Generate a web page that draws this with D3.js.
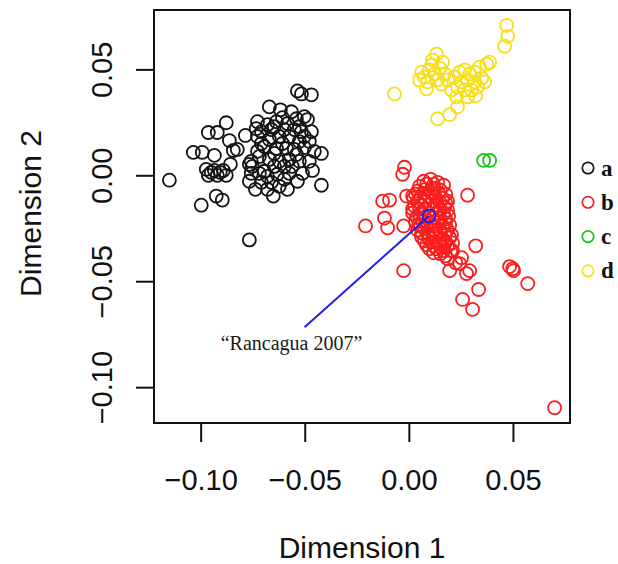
<!DOCTYPE html>
<html>
<head>
<meta charset="utf-8">
<script src="https://cdn.jsdelivr.net/npm/d3@7"></script>
<style>
  html, body { margin: 0; padding: 0; background: #fff; }
  svg { display: block; }
</style>
</head>
<body>
<svg id="chart" width="618" height="564"></svg>
<script>
// MDS-style scatter, four groups a-d, one highlighted point

// group a (black)
const groupA = [
  [-0.1150,-0.0023],[-0.0997,-0.0141],[-0.0766,-0.0305],[-0.1035,0.0108],[-0.0992,0.0108],
  [-0.0963,0.0202],[-0.0920,0.0202],[-0.0877,0.0248],[-0.0934,0.0094],[-0.0862,0.0164],
  [-0.0843,0.0117],[-0.0857,0.0052],[-0.0973,0.0028],[-0.0963,0.0000],[-0.0934,0.0023],
  [-0.0920,0.0000],[-0.0891,0.0023],[-0.0877,0.0000],[-0.0949,0.0014],[-0.0906,0.0014],
  [-0.0925,-0.0098],[-0.0896,-0.0117],[-0.0785,0.0188],[-0.0733,0.0220],[-0.0727,0.0253],
  [-0.0670,0.0323],[-0.0617,0.0309],[-0.0535,0.0398],[-0.0516,0.0384],[-0.0468,0.0380],
  [-0.0824,0.0122],[-0.0679,0.0239],[-0.0646,0.0230],[-0.0583,0.0244],[-0.0540,0.0267],
  [-0.0502,0.0277],[-0.0487,0.0263],[-0.0526,0.0230],[-0.0468,0.0206],[-0.0516,0.0206],
  [-0.0550,0.0216],[-0.0420,0.0103],[-0.0463,0.0023],[-0.0420,-0.0047],[-0.0535,-0.0028],
  [-0.0651,-0.0098],[-0.0766,-0.0028],[-0.0752,0.0042],[-0.0757,0.0066],[-0.0708,0.0150],
  [-0.0694,0.0136],[-0.0636,0.0127],[-0.0588,0.0127],[-0.0550,0.0122],[-0.0502,0.0131],
  [-0.0718,0.0009],[-0.0679,-0.0005],[-0.0632,0.0005],[-0.0598,-0.0019],[-0.0660,-0.0033],
  [-0.0708,-0.0033],[-0.0670,0.0075],[-0.0622,0.0066],[-0.0574,0.0075],[-0.0646,0.0042],
  [-0.0598,0.0042],[-0.0718,0.0089],[-0.0694,0.0019],[-0.0574,0.0009],[-0.0526,0.0066],
  [-0.0502,0.0183],[-0.0574,0.0183],[-0.0622,0.0183],[-0.0670,0.0169],[-0.0607,0.0272],
  [-0.0660,0.0216],[-0.0737,-0.0066],[-0.0622,-0.0052],[-0.0766,0.0052],[-0.0646,0.0103],
  [-0.0560,0.0042],[-0.0727,0.0183],[-0.0598,0.0216],[-0.0478,0.0159],
  [-0.0708,0.0206],[-0.0564,0.0300],[-0.0526,0.0159],[-0.0454,0.0113],[-0.0727,0.0113],
  [-0.0607,0.0150],[-0.0540,0.0098],[-0.0679,-0.0066],[-0.0583,-0.0066],[-0.0511,0.0009],
  [-0.0478,0.0066],[-0.0636,0.0253],[-0.0757,0.0009]
];

// group b (red)
const groupB = [
  [-0.0021,0.0038],[-0.0030,0.0005],[0.0282,-0.0094],[-0.0126,-0.0122],[-0.0093,-0.0117],
  [-0.0011,-0.0098],[0.0018,-0.0098],[-0.0117,-0.0202],[-0.0102,-0.0248],[-0.0208,-0.0239],
  [-0.0025,-0.0239],[0.0321,-0.0333],[-0.0025,-0.0450],[0.0484,-0.0431],[0.0499,-0.0441],
  [0.0503,-0.0450],[0.0571,-0.0511],[0.0335,-0.0539],[0.0258,-0.0586],[0.0306,-0.0633],
  [0.0700,-0.1097],[0.0172,-0.0323],[0.0210,-0.0356],[0.0253,-0.0389],[0.0244,-0.0417],
  [0.0196,-0.0450],[0.0277,-0.0464],[0.0292,-0.0450],[0.0225,-0.0413],[0.0186,-0.0394],
  [0.0071,-0.0028],[0.0104,-0.0019],[0.0138,-0.0033],[0.0167,-0.0047],
  [0.0042,-0.0075],[0.0080,-0.0066],[0.0119,-0.0061],[0.0152,-0.0070],
  [0.0023,-0.0108],[0.0056,-0.0103],[0.0095,-0.0098],[0.0128,-0.0103],[0.0162,-0.0108],[0.0186,-0.0122],
  [0.0027,-0.0145],[0.0061,-0.0141],[0.0100,-0.0136],[0.0138,-0.0141],[0.0172,-0.0150],
  [0.0018,-0.0178],[0.0051,-0.0183],[0.0133,-0.0178],[0.0167,-0.0183],[0.0191,-0.0192],
  [0.0032,-0.0220],[0.0066,-0.0216],[0.0104,-0.0225],[0.0143,-0.0220],[0.0176,-0.0225],
  [0.0042,-0.0258],[0.0076,-0.0253],[0.0114,-0.0258],[0.0152,-0.0263],[0.0186,-0.0258],
  [0.0061,-0.0291],[0.0095,-0.0295],[0.0128,-0.0291],[0.0162,-0.0300],[0.0196,-0.0295],
  [0.0085,-0.0328],[0.0119,-0.0333],[0.0152,-0.0338],[0.0186,-0.0333],
  [0.0119,-0.0366],[0.0152,-0.0370],[0.0176,-0.0380],
  [0.0085,-0.0042],[0.0119,-0.0084],[0.0076,-0.0159],[0.0114,-0.0202],[0.0056,-0.0239],
  [0.0147,-0.0310],[0.0099,-0.0347],
  [0.0051,-0.0052],[0.0119,-0.0042],[0.0032,-0.0089],[0.0071,-0.0084],[0.0104,-0.0080],
  [0.0143,-0.0084],[0.0177,-0.0089],[0.0042,-0.0122],[0.0080,-0.0122],[0.0114,-0.0122],
  [0.0148,-0.0127],[0.0177,-0.0131],[0.0018,-0.0159],[0.0051,-0.0159],[0.0119,-0.0159],
  [0.0152,-0.0159],[0.0186,-0.0164],[0.0037,-0.0197],[0.0075,-0.0197],[0.0148,-0.0197],
  [0.0177,-0.0206],[0.0047,-0.0234],[0.0085,-0.0234],[0.0124,-0.0239],[0.0162,-0.0239],
  [0.0196,-0.0234],[0.0061,-0.0272],[0.0095,-0.0277],[0.0133,-0.0272],[0.0172,-0.0277],
  [0.0205,-0.0281],[0.0075,-0.0309],[0.0109,-0.0314],[0.0143,-0.0319],[0.0177,-0.0314],
  [0.0210,-0.0319],[0.0133,-0.0347],[0.0167,-0.0356],[0.0201,-0.0356]
];

// group c (green)
const groupC = [[0.0359,0.0070],[0.0388,0.0070]];

// group d (yellow)
const groupD = [
  [0.0470,0.0708],[0.0475,0.0656],[0.0460,0.0609],[-0.0069,0.0384],[0.0133,0.0572],
  [0.0114,0.0544],[0.0388,0.0534],[0.0374,0.0525],[0.0138,0.0267],[0.0196,0.0286],
  [0.0234,0.0323],[0.0085,0.0408],[0.0157,0.0431],[0.0061,0.0487],[0.0075,0.0464],
  [0.0099,0.0497],[0.0124,0.0478],[0.0148,0.0506],[0.0172,0.0478],[0.0090,0.0441],
  [0.0138,0.0450],[0.0186,0.0450],[0.0109,0.0520],[0.0220,0.0464],[0.0244,0.0487],
  [0.0268,0.0497],[0.0292,0.0478],[0.0316,0.0487],[0.0340,0.0511],[0.0253,0.0441],
  [0.0282,0.0450],[0.0316,0.0441],[0.0350,0.0459],[0.0234,0.0417],[0.0268,0.0403],
  [0.0301,0.0403],[0.0330,0.0417],[0.0364,0.0441],[0.0229,0.0370],[0.0282,0.0370],
  [0.0205,0.0403],[0.0162,0.0534],[0.0051,0.0450],[0.0321,0.0375]
];

const legendLabels = ["a", "b", "c", "d"];
const groupColors = ["#141414", "#fb1e1e", "#12c812", "#f7df1c"];

const xTicks = [-0.10, -0.05, 0.00, 0.05];
const yTicks = [-0.10, -0.05, 0.00, 0.05];

// highlighted observation and its label
const highlight = [0.0097, -0.0192];
const highlightLabel = "\u201CRancagua 2007\u201D";
const labelAnchor = [-0.0501, -0.0717];

// ---------------------------------------------------------------------------

const svg = d3.select("#chart");
const box = { left: 154, right: 570, top: 10, bottom: 423 };

const groups = [groupA, groupB, groupC, groupD];
const all = groups.flat();

// R style: data range widened by 4% each side
function padded(ext) {
  const p = (ext[1] - ext[0]) * 0.04;
  return [ext[0] - p, ext[1] + p];
}

const x = d3.scaleLinear()
  .domain(padded(d3.extent(all, d => d[0])))
  .range([box.left, box.right]);

const y = d3.scaleLinear()
  .domain(padded(d3.extent(all, d => d[1])))
  .range([box.bottom, box.top]);

const fmt = d3.format(".2f");
const sans = "'Liberation Sans', Arial, sans-serif";
const serif = "'Liberation Serif', 'Times New Roman', serif";

// x axis
const xAxis = svg.append("g")
  .attr("transform", `translate(0,${box.bottom})`)
  .call(d3.axisBottom(x).tickValues(xTicks).tickFormat(fmt).tickSize(19).tickSizeOuter(0));
xAxis.select(".domain").remove();
xAxis.selectAll(".tick line").attr("stroke", "#111").attr("stroke-width", 2);
xAxis.selectAll(".tick text")
  .attr("y", 67).attr("dy", null)
  .attr("font-family", sans).attr("font-size", 29).attr("fill", "#111");

// y axis, labels turned like R's default
const yAxis = svg.append("g")
  .attr("transform", `translate(${box.left},0)`)
  .call(d3.axisLeft(y).tickValues(yTicks).tickFormat(fmt).tickSize(18).tickSizeOuter(0));
yAxis.select(".domain").remove();
yAxis.selectAll(".tick line").attr("stroke", "#111").attr("stroke-width", 2);
yAxis.selectAll(".tick text")
  .attr("x", null).attr("dy", null)
  .attr("transform", "translate(-42,0) rotate(-90)")
  .attr("text-anchor", "middle")
  .attr("font-family", sans).attr("font-size", 29).attr("fill", "#111");

// plot box
svg.append("rect")
  .attr("x", box.left).attr("y", box.top)
  .attr("width", box.right - box.left).attr("height", box.bottom - box.top)
  .attr("fill", "none").attr("stroke", "#111").attr("stroke-width", 2);

// titles
svg.append("text")
  .attr("x", (box.left + box.right) / 2).attr("y", 558)
  .attr("text-anchor", "middle")
  .attr("font-family", sans).attr("font-size", 30).attr("fill", "#111")
  .text("Dimension 1");

svg.append("text")
  .attr("transform", `translate(41,${(box.top + box.bottom) / 2 - 3}) rotate(-90)`)
  .attr("text-anchor", "middle")
  .attr("font-family", sans).attr("font-size", 30).attr("fill", "#111")
  .text("Dimension 2");

// points
groups.forEach((pts, i) => {
  svg.append("g")
    .selectAll("circle")
    .data(pts)
    .join("circle")
    .attr("cx", d => x(d[0]))
    .attr("cy", d => y(d[1]))
    .attr("r", 6.5)
    .attr("fill", "none")
    .attr("stroke", groupColors[i])
    .attr("stroke-width", 1.8);
});

// highlighted point with pointer line
svg.append("line")
  .attr("x1", x(labelAnchor[0])).attr("y1", y(labelAnchor[1]))
  .attr("x2", x(highlight[0])).attr("y2", y(highlight[1]))
  .attr("stroke", "#2020ee").attr("stroke-width", 2);
svg.append("circle")
  .attr("cx", x(highlight[0])).attr("cy", y(highlight[1]))
  .attr("r", 6.5)
  .attr("fill", "none").attr("stroke", "#2020ee").attr("stroke-width", 2);
svg.append("text")
  .attr("x", x(labelAnchor[0]) - 13).attr("y", y(labelAnchor[1]) + 23)
  .attr("text-anchor", "middle")
  .attr("font-family", serif).attr("font-size", 20).attr("fill", "#1a1a1a")
  .text(highlightLabel);

// legend outside on the right
const legend = svg.append("g").attr("transform", "translate(588,168)");
const rows = legend.selectAll("g")
  .data(legendLabels)
  .join("g")
  .attr("transform", (d, i) => `translate(0,${i * 34.3})`);
rows.append("circle")
  .attr("r", 5.7)
  .attr("fill", "none")
  .attr("stroke", (d, i) => groupColors[i])
  .attr("stroke-width", 1.7);
rows.append("text")
  .attr("x", 13).attr("y", 7.5)
  .attr("font-family", serif).attr("font-weight", "bold").attr("font-size", 23)
  .attr("fill", "#111")
  .text(d => d);
</script>
</body>
</html>
